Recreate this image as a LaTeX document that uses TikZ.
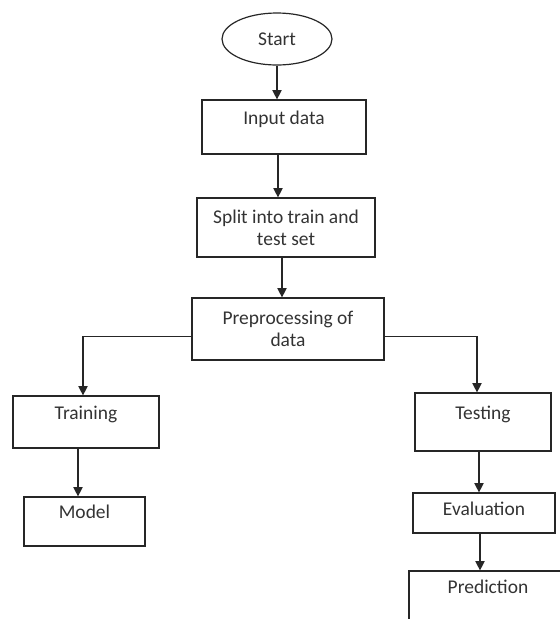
\documentclass[tikz,border=0pt]{standalone}
\usepackage{fontspec}
\setmainfont{Carlito}
\usetikzlibrary{arrows.meta,shapes.geometric}

\begin{document}
\begin{tikzpicture}[
    x=0.75pt, y=-0.75pt,
    >={Triangle[width=7pt,length=7pt]},
    box/.style={
      draw=black!85,
      line width=0.9pt,
      inner sep=0pt,
      align=center,
      text=black!80,
      font=\fontsize{14.6}{16.5}\selectfont
    },
    topline/.style={
      box,
      text height=10pt,
      text depth=13.8pt
    },
    flow/.style={->, line width=0.9pt, draw=black!85}
  ]
    \useasboundingbox (0,0) rectangle (560,619);
    \clip (0,0) rectangle (560,619);

    \node[box, ellipse, minimum width=82.5pt, minimum height=39pt] (start) at (277,39) {Start};
    \node[topline, minimum width=123pt, minimum height=40.5pt] (input) at (284,127) {Input data};
    \node[box, minimum width=133.5pt, minimum height=44.25pt] (split) at (286,227.5) {Split into train and\\test set};
    \node[box, minimum width=144pt, minimum height=46.5pt] (prep) at (288,329) {Preprocessing of\\data};

    \node[topline, minimum width=109.5pt, minimum height=39pt] (train) at (86,422) {Training};
    \node[topline, minimum width=90.75pt, minimum height=36.75pt] (model) at (84.5,521.5) {Model};

    \node[topline, minimum width=102pt, minimum height=43.5pt] (test) at (483,422) {Testing};
    \node[box, text height=10pt, text depth=7pt, minimum width=106.5pt, minimum height=30pt] (eval) at (484,513) {Evaluation};
    \node[box, text height=10pt, text depth=25pt, minimum width=118.5pt, minimum height=48pt] (pred) at (488,603) {Prediction};

    \draw[flow] (start.south) -- (start.south |- input.north);
    \draw[flow] ([xshift=-4.5pt]input.south) -- ([xshift=-4.5pt]input.south |- split.north);
    \draw[flow] ([xshift=-3pt]split.south) -- ([xshift=-3pt]split.south |- prep.north);

    \draw[flow] ([yshift=-5.6pt]prep.west) -| ([xshift=-2.25pt]train.north);
    \draw[flow] ([yshift=-5.6pt]prep.east) -| ([xshift=-4.5pt]test.north);

    \draw[flow] ([xshift=-6pt]train.south) -- ([xshift=-6pt]train.south |- model.north);
    \draw[flow] ([xshift=-3pt]test.south) -- ([xshift=-3pt]test.south |- eval.north);
    \draw[flow] ([xshift=-3pt]eval.south) -- ([xshift=-3pt]eval.south |- pred.north);
  \end{tikzpicture}
\end{document}
